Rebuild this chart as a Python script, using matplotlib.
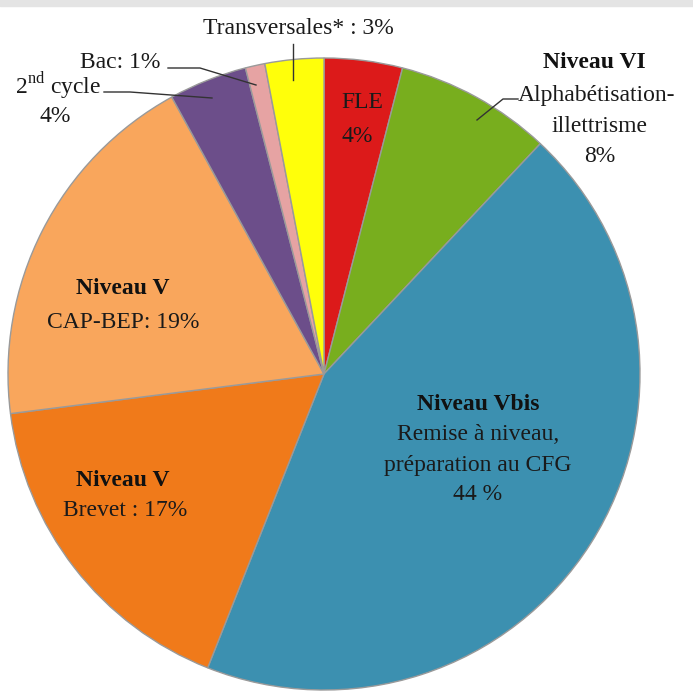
import matplotlib
matplotlib.use("Agg")
import matplotlib.pyplot as plt
from matplotlib.patches import Rectangle

# slices, clockwise from 12 o'clock
categories = ["FLE", "Niveau VI", "Niveau Vbis", "Brevet", "CAP-BEP",
              "2nd cycle", "Bac", "Transversales"]
shares = [4, 8, 44, 17, 19, 4, 1, 3]
colors = ["#DC1A1A", "#78AE1E", "#3C90B0", "#F07A1A", "#F9A65C",
          "#6C4E8A", "#E6A3A3", "#FFFF0A"]

plt.rcParams['font.family'] = ['Liberation Serif', 'DejaVu Serif']
plt.rcParams['mathtext.fontset'] = 'custom'
plt.rcParams['mathtext.rm'] = 'Liberation Serif'

W = 693
fig = plt.figure(figsize=(6.93, 6.93), dpi=100)
ax = fig.add_axes([0, 0, 1, 1])

# light grey strip along the top edge
fig.patches.append(Rectangle((0, 0.991), 1, 0.009, transform=fig.transFigure,
                             color="#E4E4E4", zorder=0))

cx, cy, r = 324, W - 374, 316
ax.pie(shares, colors=colors, startangle=90, counterclock=False,
       center=(cx, cy), radius=r, frame=True,
       wedgeprops=dict(edgecolor="#9A9A9A", linewidth=1.0))
ax.set_xlim(0, W)
ax.set_ylim(0, W)
ax.set_aspect('equal')
ax.axis('off')


def px(x, y):
    return x, W - y


fs = 17
txt = dict(ha='center', va='center', fontsize=fs, color='#1A1A1A')
bold = dict(ha='center', va='center', fontsize=fs, color='#111111', fontweight='bold')

# outside labels with leader lines
ax.text(*px(298, 28), "Transversales* : 3%", **txt)
ax.plot([293, 293], [W - 44, W - 80], color='#333333', lw=1)

ax.text(*px(120, 62), "Bac: 1%", **txt)
ax.plot([168, 200, 256], [W - 68, W - 68, W - 85], color='#333333', lw=1)

ax.text(*px(58, 86), "2$^{\\mathrm{nd}}$ cycle", **txt)
ax.text(*px(55, 116), "4%", **txt)
ax.plot([104, 130, 212], [W - 92, W - 92, W - 98], color='#333333', lw=1)

ax.text(*px(594, 62), "Niveau VI", **bold)
ax.text(*px(597, 96), "Alphabétisation-", **txt)
ax.text(*px(600, 126), "illettrisme", **txt)
ax.text(*px(600, 156), "8%", **txt)
ax.plot([477, 503, 518], [W - 120, W - 99, W - 99], color='#333333', lw=1)

# inside labels
ax.text(*px(362, 102), "FLE", **txt)
ax.text(*px(357, 137), "4%", **txt)

ax.text(*px(123, 288), "Niveau V", **bold)
ax.text(*px(123, 322), "CAP-BEP: 19%", **txt)

ax.text(*px(478, 404), "Niveau Vbis", **bold)
ax.text(*px(478, 434), "Remise à niveau,", **txt)
ax.text(*px(478, 466), "préparation au CFG", **txt)
ax.text(*px(478, 495), "44 %", **txt)

ax.text(*px(123, 480), "Niveau V", **bold)
ax.text(*px(125, 511), "Brevet : 17%", **txt)

fig.savefig("out.png", dpi=100)
